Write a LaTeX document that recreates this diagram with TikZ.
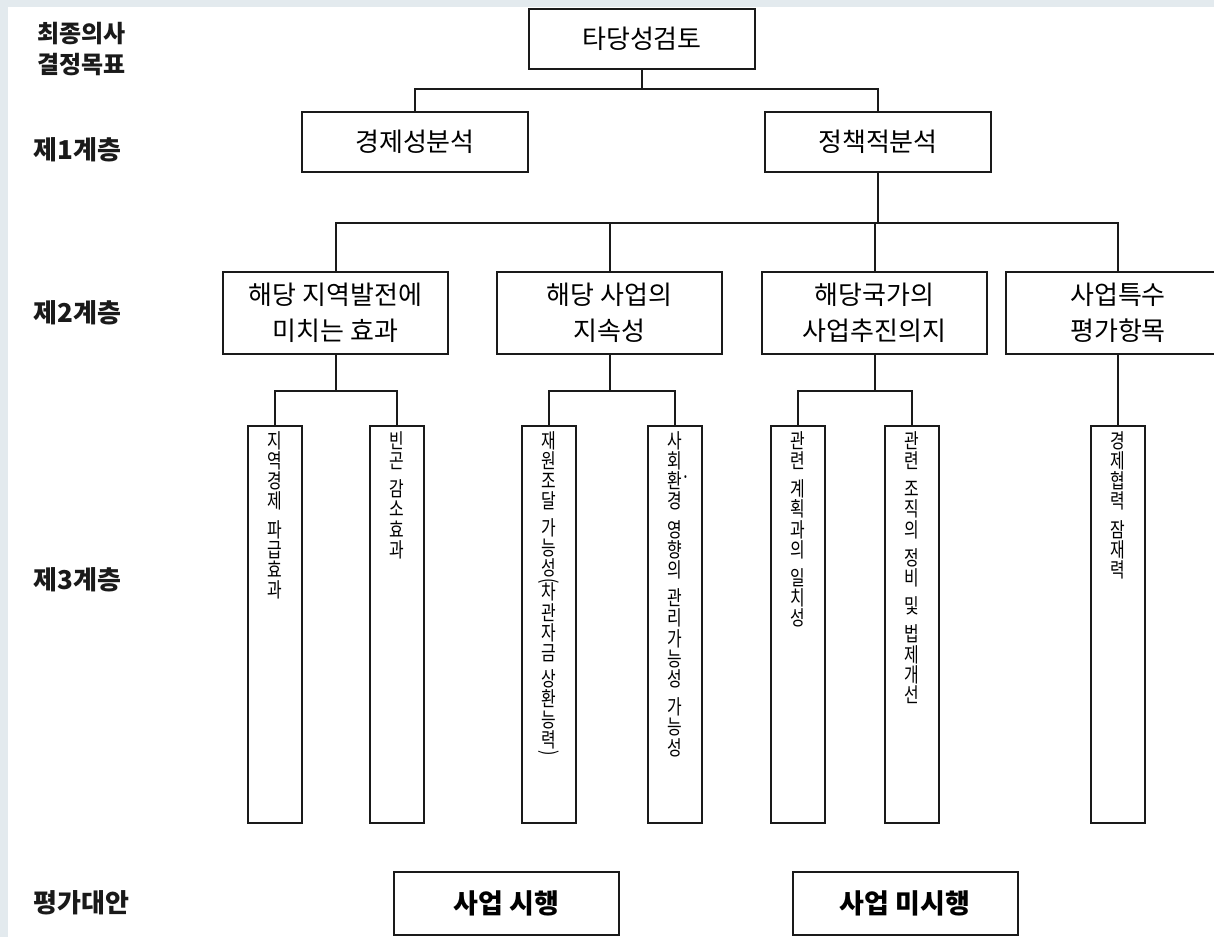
\documentclass[tikz,border=0pt]{standalone}
\usepackage{fontspec}
\newfontfamily\kr{Noto Sans CJK KR}
\newfontfamily\krn[FakeStretch=0.78]{Noto Sans CJK KR}
\definecolor{bgc}{HTML}{E3EAEE}
\definecolor{ln}{HTML}{1A1A1A}
\newcommand{\vlp}{\smash{\rotatebox[origin=c]{-90}{(}}}
\newcommand{\vrp}{\smash{\rotatebox[origin=c]{-90}{)}}}
\newcommand{\vdot}{\rlap{\smash{\raisebox{-8pt}{·}}}}
\begin{document}
\begin{tikzpicture}[x=0.5pt,y=-0.5pt,
  bx/.style={draw=ln, line width=1pt, fill=white, inner sep=0pt},
  lvl/.style={font=\kr\bfseries\fontsize{13}{15}\selectfont, anchor=west, inner sep=0pt, text=ln},
  boxa/.style={bx, minimum width=113pt, minimum height=30pt, font=\kr\fontsize{13}{16}\selectfont},
  boxb/.style={bx, minimum width=112.5pt, minimum height=41pt, align=center, font=\kr\fontsize{13}{18}\selectfont},
  boxc/.style={bx, minimum width=27pt, minimum height=198.5pt},
  vt/.style={anchor=north, inner sep=0pt, yshift=-3pt, align=center, font=\krn\fontsize{10.2}{10.1}\selectfont},
  boxd/.style={bx, minimum width=112.5pt, minimum height=31.5pt, font=\kr\bfseries\fontsize{13.5}{16}\selectfont},
  wire/.style={draw=ln, line width=1pt}]
\fill[bgc] (0,0) rectangle (1214,937);
\fill[white] (8,7) rectangle (1214,937);
\useasboundingbox (0,0) rectangle (1214,937);

% left labels
\node[lvl, anchor=north west, align=left, font=\kr\bfseries\fontsize{12}{15.5}\selectfont] (L0) at (37,22) {최종의사\\결정목표};
\node[lvl] (L1) at (33,150) {제1계층};
\node[lvl] (L2) at (33,313) {제2계층};
\node[lvl] (L3) at (33,580) {제3계층};
\node[lvl] (L4) at (33,903) {평가대안};

% level 0 and 1
\node[boxa] (top) at (642,39) {타당성검토};
\node[boxa] (e1) at (415,142) {경제성분석};
\node[boxa] (p1) at (878,142) {정책적분석};

% level 2
\node[boxb] (A) at (335.5,313) {해당 지역발전에\\미치는 효과};
\node[boxb] (B) at (609.5,313) {해당 사업의\\지속성};
\node[boxb] (C) at (874.5,313) {해당국가의\\사업추진의지};
\node[boxb] (D) at (1118,313) {사업특수\\평가항목};

% level 3
\node[boxc, label={[vt]north:{지\\역\\경\\제\\[4pt]파\\급\\효\\과}}] (v1) at (274.5,624.5) {};
\node[boxc, label={[vt]north:{빈\\곤\\[4pt]감\\소\\효\\과}}] (v2) at (397,624.5) {};
\node[boxc, label={[vt]north:{재\\원\\조\\달\\[3pt]가\\능\\성\\[-4pt]\vlp\\[-4pt]차\\관\\자\\금\\[3pt]상\\환\\능\\력\\[-4pt]\vrp}}] (v3) at (548.5,624.5) {};
\node[boxc, label={[vt]north:{사\\회\vdot\\환\\경\\[4pt]영\\향\\의\\[4pt]관\\리\\가\\능\\성\\[4pt]가\\능\\성}}] (v4) at (674.5,624.5) {};
\node[boxc, label={[vt]north:{관\\련\\[4pt]계\\획\\과\\의\\[4pt]일\\치\\성}}] (v5) at (797.5,624.5) {};
\node[boxc, label={[vt]north:{관\\련\\[4pt]조\\직\\의\\[4pt]정\\비\\[4pt]및\\[4pt]법\\제\\개\\선}}] (v6) at (912,624.5) {};
\node[boxc, label={[vt]north:{경\\제\\협\\력\\[4pt]잠\\재\\력}}] (v7) at (1118,624.5) {};

% alternatives
\node[boxd] (s1) at (506.5,903.5) {사업 시행};
\node[boxd] (s2) at (905,903.5) {사업 미시행};

% connectors
\coordinate (h0) at (642,89);
\draw[wire] (top.south) -- (h0);
\draw[wire] (e1.north) |- (h0) -| (p1.north);
\coordinate (h1) at (878,223);
\draw[wire] (p1.south) -- (h1);
\draw[wire] (A.north) |- (h1) -| (D.north);
\draw[wire] (B.north) -- (B.north |- h1);
\draw[wire] (C.north) -- (C.north |- h1);
\coordinate (ha) at (335.5,391);
\draw[wire] (A.south) -- (ha);
\draw[wire] (v1.north) |- (ha) -| (v2.north);
\coordinate (hb) at (609.5,391);
\draw[wire] (B.south) -- (hb);
\draw[wire] (v3.north) |- (hb) -| (v4.north);
\coordinate (hc) at (874.5,391);
\draw[wire] (C.south) -- (hc);
\draw[wire] (v5.north) |- (hc) -| (v6.north);
\draw[wire] (D.south) -- (v7.north);
\end{tikzpicture}
\end{document}
